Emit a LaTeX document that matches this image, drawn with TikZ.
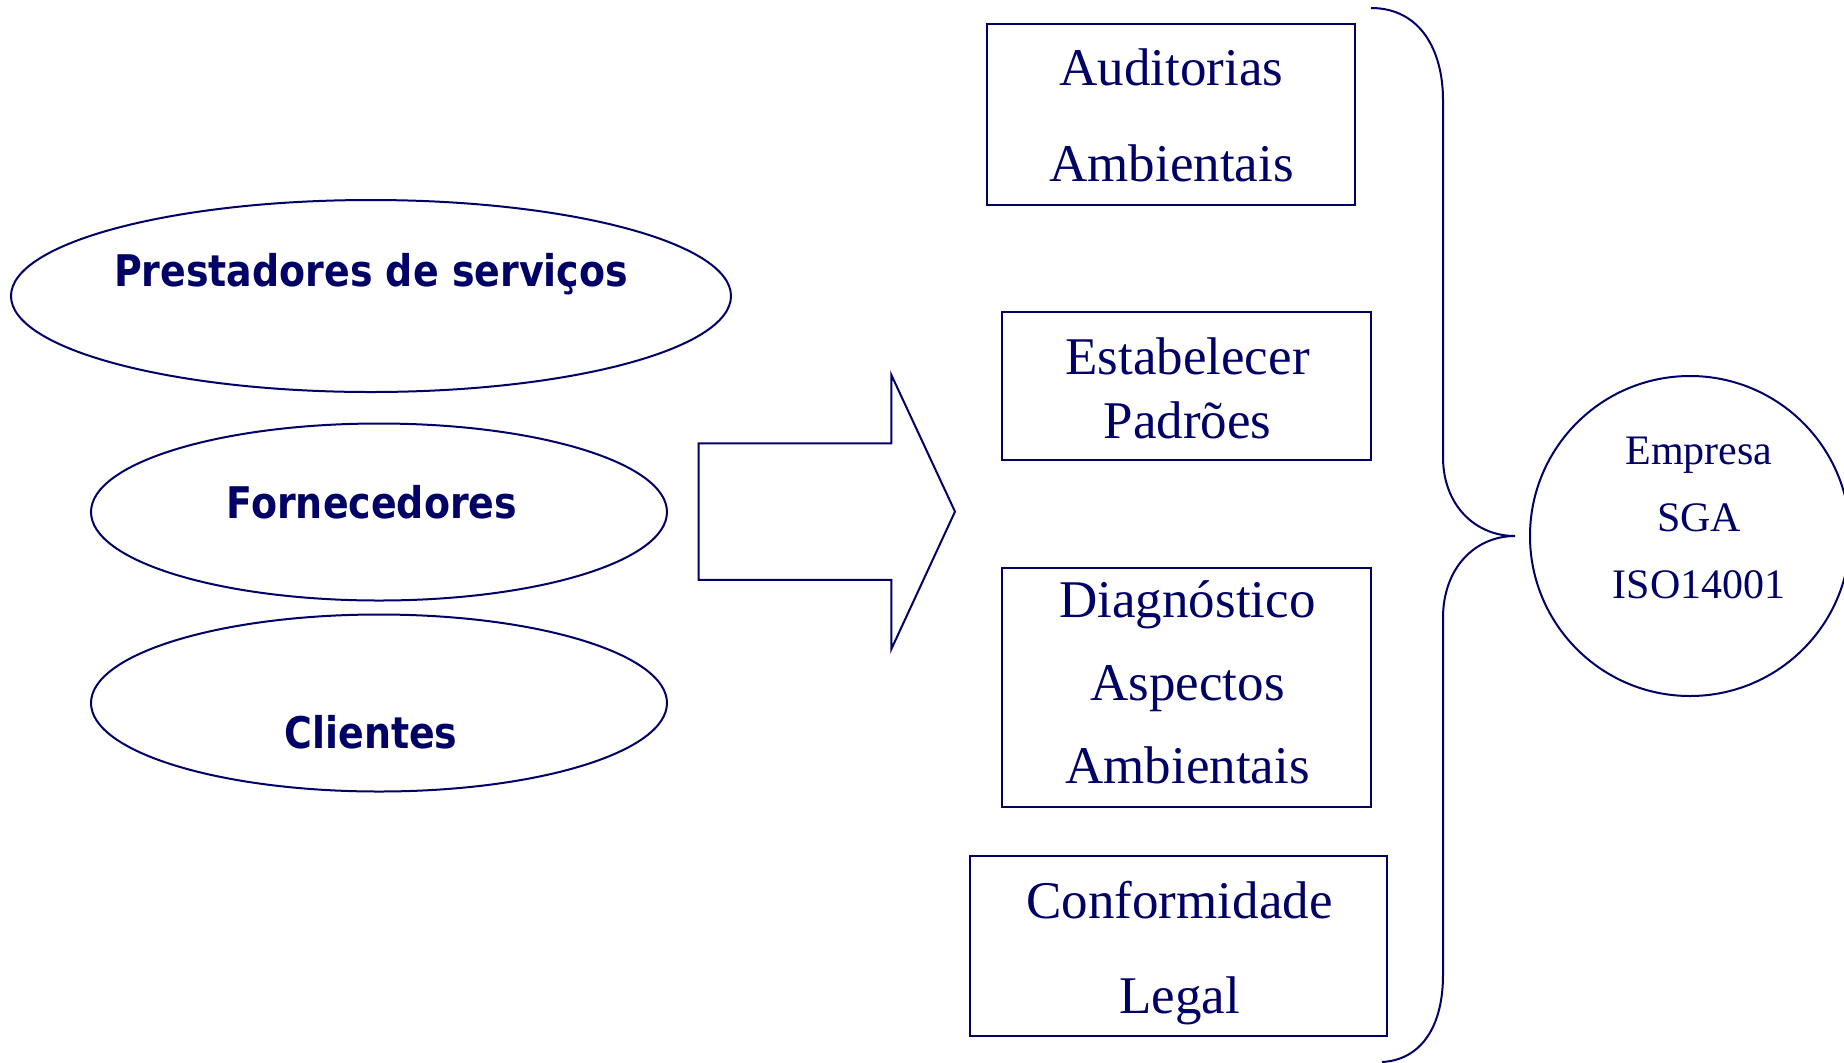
\documentclass[tikz,border=0pt]{standalone}
\usepackage{fontspec}
\setmainfont{Liberation Serif}
\newfontfamily\boldsans[FakeStretch=0.87]{DejaVu Sans}
\usetikzlibrary{shapes.geometric}
\definecolor{navy}{RGB}{0,0,102}
\tikzset{
  oval/.style={ellipse, draw=navy, line width=1pt, inner sep=0pt},
  ovaltext/.style={text=navy, font=\boldsans\bfseries\fontsize{21.8}{24}\selectfont, inner sep=0pt},
  taskbox/.style={rectangle, draw=navy, line width=1pt, inner sep=0pt},
  tasktext/.style={text=navy, align=center, inner sep=0pt},
  outline/.style={draw=navy, line width=1pt},
}
\begin{document}
\begin{tikzpicture}[x=0.5pt,y=-0.5pt]
\path[use as bounding box] (0,0) rectangle (1844,1062);

% ellipses
\node[oval, minimum width=360pt, minimum height=96pt] (e1) at (371,296) {};
\node[ovaltext] (t1) at (371,274) {Prestadores de serviços};
\node[oval, minimum width=288pt, minimum height=88.5pt] (e2) at (379,512) {};
\node[ovaltext] (t2) at (372,502) {Fornecedores};
\node[oval, minimum width=288pt, minimum height=88.5pt] (e3) at (379,703) {};
\node[ovaltext] (t3) at (371,732) {Clientes};

% block arrow
\draw[outline, line join=miter] (698.5,443.4) -- (891.4,443.4) -- (891.4,375) -- (955,511.6)
  -- (891.4,649) -- (891.4,579.8) -- (698.5,579.8) -- cycle;

% boxes
\node[taskbox, minimum width=184pt, minimum height=90.5pt] (b1) at (1170.75,114) {};
\node[tasktext, font=\fontsize{26.5}{48}\selectfont] (b1t) at (1171.5,115) {Auditorias\\Ambientais};
\node[taskbox, minimum width=184.5pt, minimum height=74pt] (b2) at (1186.5,385.7) {};
\node[tasktext, font=\fontsize{26.5}{32}\selectfont] (b2t) at (1187.5,388) {Estabelecer\\Padrões};
\node[taskbox, minimum width=184.5pt, minimum height=119.4pt] (b3) at (1186.5,687.4) {};
\node[tasktext, font=\fontsize{26.5}{41.5}\selectfont] (b3t) at (1187.5,682.5) {Diagnóstico\\Aspectos\\Ambientais};
\node[taskbox, minimum width=208.3pt, minimum height=90pt] (b4) at (1178.3,946) {};
\node[tasktext, font=\fontsize{26.5}{47.5}\selectfont] (b4t) at (1179.5,953) {Conformidade\\Legal};

% brace
\coordinate (btop) at (1371,8);
\coordinate (btip) at (1515,536);
\coordinate (bbot) at (1382,1062);
\draw[outline] (btop) .. controls (1420,8) and (1443,50) .. (1443,100)
  -- (1443,457) .. controls (1443,505) and (1475,536) .. (btip)
  .. controls (1475,536) and (1443,568) .. (1443,618)
  -- (1443,975) .. controls (1443,1028) and (1420,1060) .. (bbot);

% circle
\node[circle, draw=navy, line width=1pt, minimum size=160pt, inner sep=0pt] (c) at (1690,536) {};
\node[tasktext, font=\fontsize{21}{33.5}\selectfont] (ct) at (1699,518) {Empresa\\SGA\\ISO14001};
\end{tikzpicture}
\end{document}
